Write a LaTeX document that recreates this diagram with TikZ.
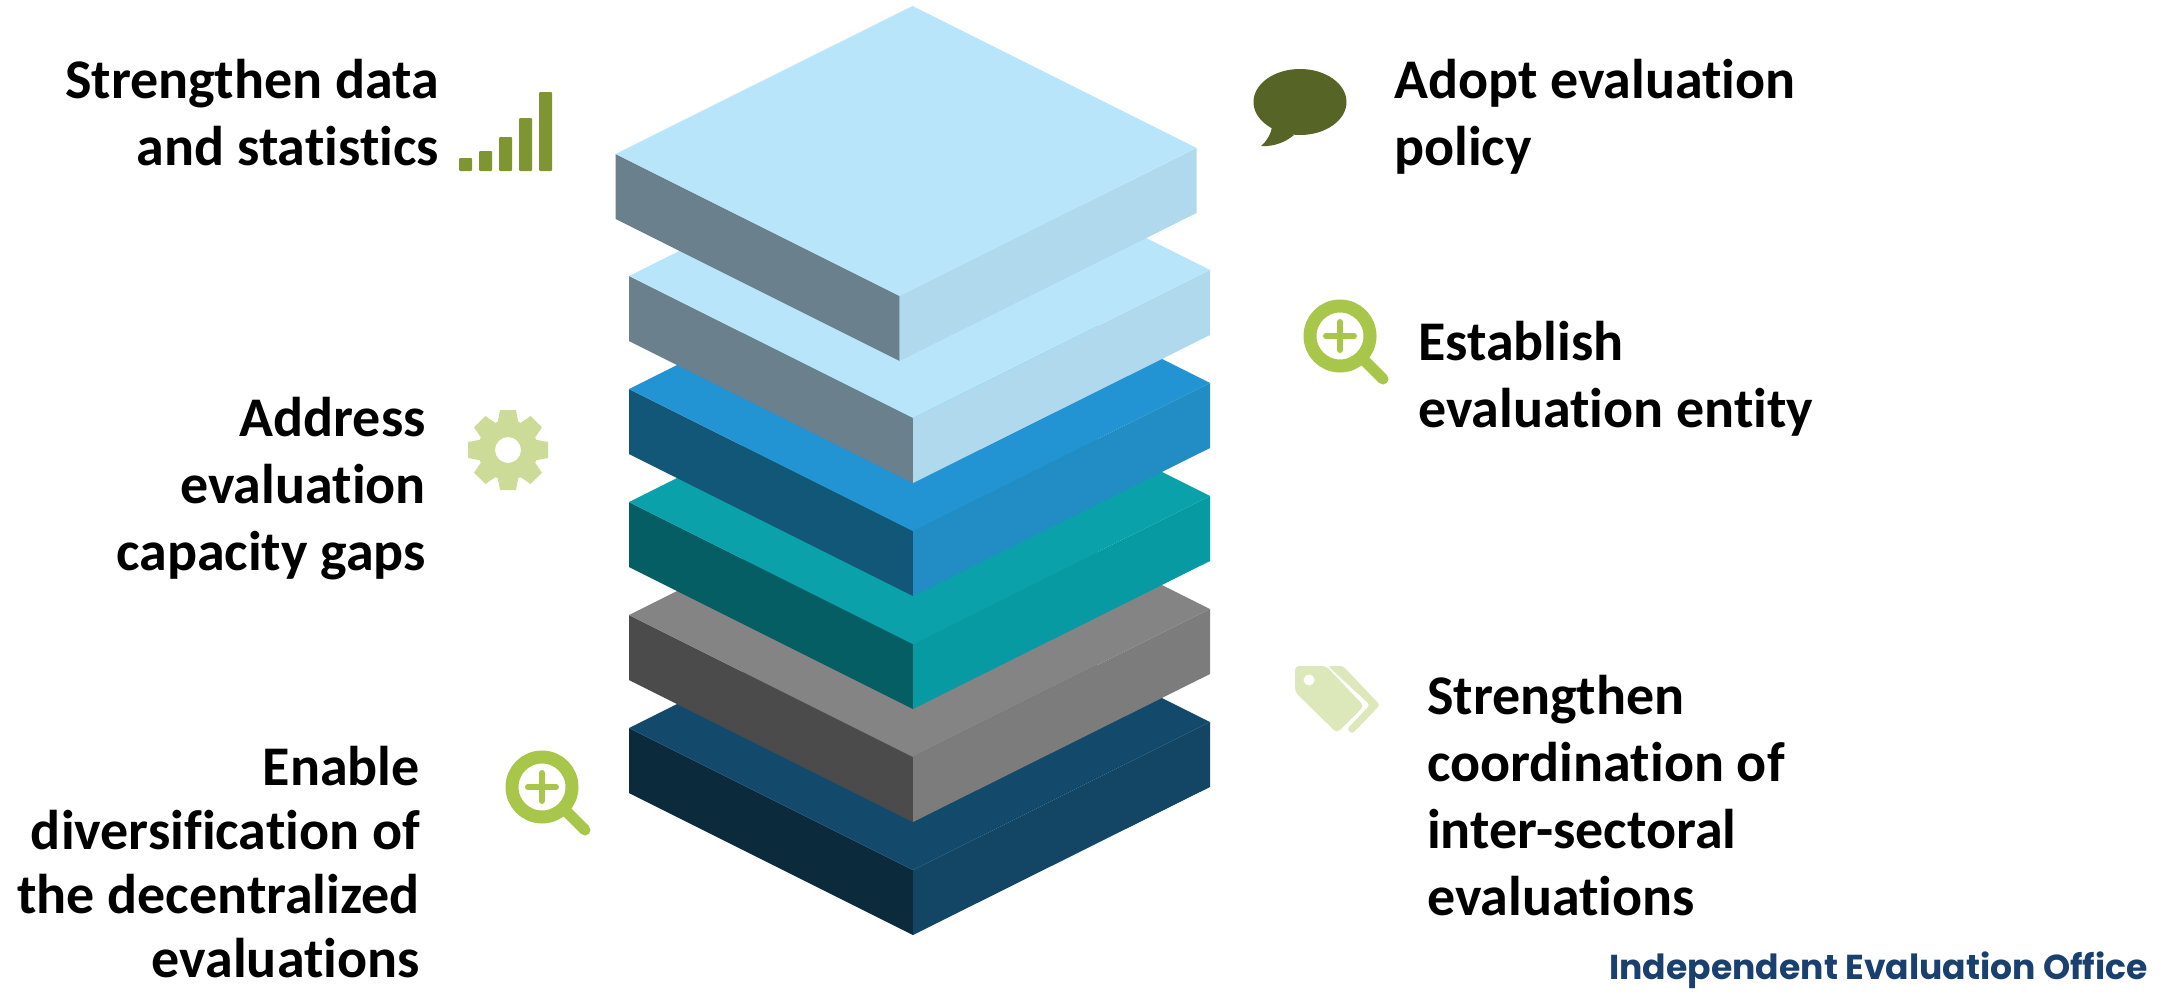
\documentclass[tikz,border=0pt]{standalone}
\usepackage{fontspec}
\setmainfont[Ligatures=NoCommon]{Carlito}
\newfontfamily\ieofont{Poppins}
\usetikzlibrary{positioning}
\definecolor{barcol}{HTML}{7E9531}
\definecolor{bubblecol}{HTML}{566426}
\definecolor{lenscol}{HTML}{A8C64A}
\definecolor{gearcol}{HTML}{CCDC98}
\definecolor{tagcol}{HTML}{DDE8BA}
\definecolor{ieocol}{HTML}{1A4070}
\begin{document}
\begin{tikzpicture}[x=1pt,y=-1pt,
	lbl/.style={font=\fontsize{56}{67}\selectfont\bfseries,inner sep=0pt,text=black},
	lblleft/.style={lbl,anchor=north east,align=right},
	lblright/.style={lbl,anchor=north west,align=left},
	lens/.pic={
		\draw[lenscol,line width=13pt] (0,0) circle (30);
		\draw[lenscol,line width=11pt,line cap=round] (24,24) -- (43,43);
		\draw[lenscol,line width=6pt,line cap=round] (-14,0) -- (14,0) (0,-14) -- (0,14);
	}]
	\useasboundingbox (0,0) rectangle (2179,993);
	% slabs, bottom one first
	\foreach \xfront/\yfront/\ctop/\cleft/\cright [count=\n] in {
		913/870/134A6B/0B2A3C/124664,
		913/757/848484/4B4B4B/7C7C7C,
		913/644/0AA1AA/055E63/079AA2,
		913/531/2294D3/125678/228CC5,
		913/418/B9E5FB/6A808C/B0D9EE,
		899.5/296/B9E5FB/6A808C/B0D9EE} {
		\definecolor{slabtop}{HTML}{\ctop}
		\definecolor{slableft}{HTML}{\cleft}
		\definecolor{slabright}{HTML}{\cright}
		\coordinate (F\n) at (\xfront,\yfront);
		\coordinate (L\n) at (\xfront-284,\yfront-142);
		\coordinate (R\n) at (\xfront+297,\yfront-148);
		\coordinate (B\n) at (\xfront+13,\yfront-290);
		\fill[slableft] (L\n) -- (F\n) -- ++(0,65) -- ([yshift=-65pt]L\n) -- cycle;
		\fill[slabright] (R\n) -- (F\n) -- ++(0,65) -- ([yshift=-65pt]R\n) -- cycle;
		\fill[slabtop] (L\n) -- (B\n) -- (R\n) -- (F\n) -- cycle;
	}
	% labels
	\node[lblleft] (data) at (439,59) {Strengthen data\\and statistics};
	\node[lblleft] (gaps) at (426,397) {Address\\evaluation\\capacity gaps};
	\node[lblleft,font=\fontsize{56}{64}\selectfont\bfseries] (decentral) at (420,746) {Enable\\diversification of\\the decentralized\\evaluations};
	\node[lblright] (policy) at (1394,59) {Adopt evaluation\\policy};
	\node[lblright] (entity) at (1418,321) {Establish\\evaluation entity};
	\node[lblright] (sectoral) at (1427,675) {Strengthen\\coordination of\\inter-sectoral\\evaluations};
	\node[anchor=east,inner sep=0pt,font=\ieofont\fontsize{34.6}{40}\selectfont\bfseries,text=ieocol] (office) at (2148,970) {Independent Evaluation Office};
	% bars
	\foreach \h [count=\n] in {13,20,34,53,79}
		\fill[barcol,rounded corners=1pt] (459+20*\n-20,171) rectangle ++(13,-\h);
	% speech bubble
	\fill[bubblecol] (1300,102) ellipse (46.5 and 33);
	\fill[bubblecol] (1272,125) .. controls (1272,133) and (1266,142) .. (1261,146) .. controls (1275,147) and (1287,141) .. (1294,135) -- cycle;
	% magnifiers
	\pic at (1340,336) {lens};
	\pic at (542,787) {lens};
	% gear
	\foreach \a in {0,45,...,315}
		\fill[gearcol,rotate around={\a:(508,450)}] (500,410) -- (516,410) -- (520,431) -- (496,431) -- cycle;
	\fill[gearcol,even odd rule] (508,450) circle (30) (508,450) circle (13);
	% tags
	\fill[tagcol,rounded corners=3pt] (1328,666) -- (1343,666) -- (1380,705) -- (1352,734) -- (1347,729) -- (1370,705) -- cycle;
	\fill[tagcol,rounded corners=4pt] (1295,666) -- (1326,666) -- (1364,706) -- (1337,733) -- (1295,692) -- cycle;
	\fill[white] (1309,680) circle (5.5);
\end{tikzpicture}
\end{document}
